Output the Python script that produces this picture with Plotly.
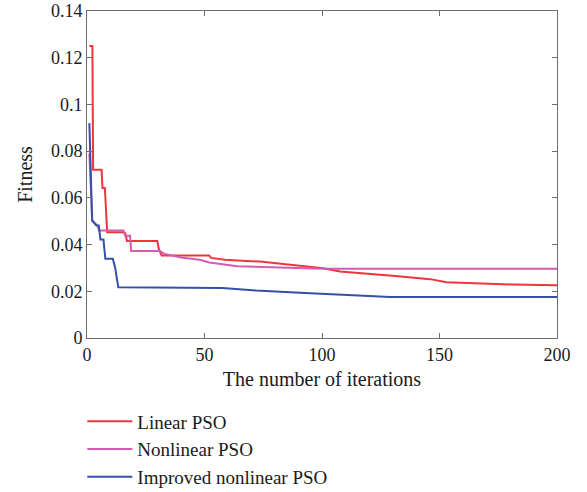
import plotly.graph_objects as go

# Linear PSO
red_x = [1, 2.3, 2.6, 6.2, 6.6, 7.6, 8.6, 15.5, 16.3, 17.0, 29.9, 30.6, 31.8, 52.0, 52.8, 58.7, 73.6, 89.0, 100.5, 107.7, 124.7, 130.0, 146.0, 153.0, 181.0, 200]
red_y = [0.125, 0.125, 0.072, 0.072, 0.0642, 0.0642, 0.0453, 0.0453, 0.0449, 0.0415, 0.0415, 0.0379, 0.0353, 0.0353, 0.0343, 0.0335, 0.0327, 0.0310, 0.0299, 0.0285, 0.0272, 0.0266, 0.0252, 0.0239, 0.0229, 0.0226]

# Nonlinear PSO
pink_x = [1, 1.6, 2.2, 4.5, 5.2, 15.5, 16.2, 18.3, 18.8, 31.0, 33.0, 40, 48, 52, 61, 64, 100, 200]
pink_y = [0.079, 0.060, 0.0503, 0.048, 0.046, 0.046, 0.0438, 0.0438, 0.0372, 0.0372, 0.036, 0.0345, 0.0335, 0.0323, 0.0312, 0.0307, 0.0297, 0.0297]

# Improved nonlinear PSO
blue_x = [1, 2.2, 4.0, 5.0, 5.7, 7.0, 7.8, 11.0, 12.0, 13.3, 57.5, 72, 90.6, 110.5, 129, 200]
blue_y = [0.092, 0.0503, 0.0482, 0.0482, 0.0422, 0.0422, 0.0339, 0.0339, 0.030, 0.0217, 0.0214, 0.0203, 0.0194, 0.0185, 0.0176, 0.0176]

names = ["Linear PSO", "Nonlinear PSO", "Improved nonlinear PSO"]
colors = ["#f0343c", "#d45cb4", "#3450a8"]

fig = go.Figure()
for xs, ys, nm, c in zip([red_x, pink_x, blue_x], [red_y, pink_y, blue_y], names, colors):
    fig.add_trace(go.Scatter(x=xs, y=ys, mode="lines", name=nm,
                             line=dict(color=c, width=2)))

font = "Liberation Serif"
axis_common = dict(showgrid=False, zeroline=False, showline=True, linecolor="#6e6e6e",
                   linewidth=1, mirror="ticks", ticks="inside", ticklen=5, automargin=False,
                   tickcolor="#6e6e6e", tickfont=dict(family=font, size=18, color="#1a1a1a"))
fig.update_xaxes(range=[0, 200], tickvals=[0, 50, 100, 150, 200],
                 title=dict(text="The number of iterations", font=dict(family=font, size=20, color="#1a1a1a"), standoff=8),
                 **axis_common)
fig.update_yaxes(range=[0, 0.14], tickvals=[0, 0.02, 0.04, 0.06, 0.08, 0.1, 0.12, 0.14],
                 ticktext=["0", "0.02", "0.04", "0.06", "0.08", "0.1", "0.12", "0.14"],
                 title=dict(text="Fitness", font=dict(family=font, size=20, color="#1a1a1a"), standoff=12),
                 **axis_common)
fig.update_layout(
    width=587, height=492,
    margin=dict(l=87, r=30, t=11, b=154),
    plot_bgcolor="white", paper_bgcolor="white",
    showlegend=True,
    legend=dict(x=-0.01, xanchor="left", y=0.182, yref="container", yanchor="top",
                itemwidth=45,
                font=dict(family=font, size=19, color="#1a1a1a"),
                bgcolor="rgba(0,0,0,0)"),
)
fig.write_html("out.html")
